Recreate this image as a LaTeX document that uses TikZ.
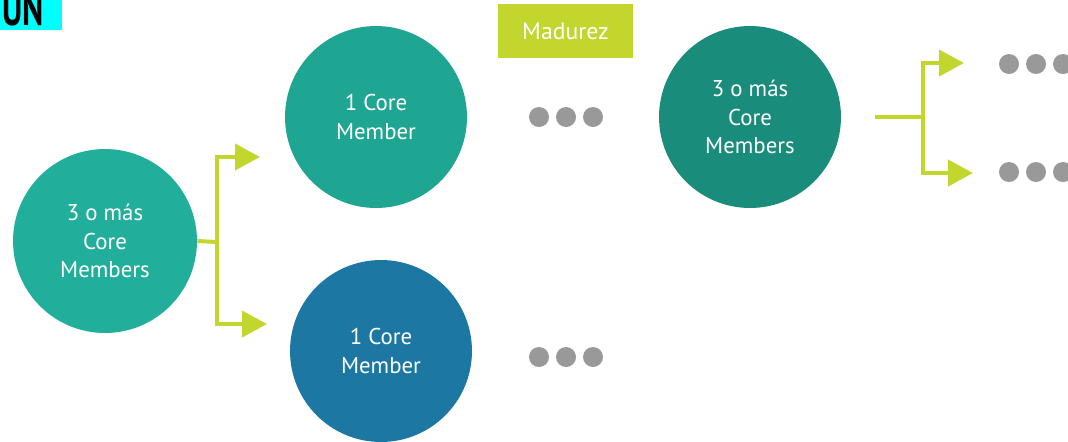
\documentclass[tikz,border=0pt]{standalone}
\usepackage{fontspec}
\setmainfont{PT Sans}
\usetikzlibrary{arrows.meta}
\definecolor{tealleft}{HTML}{21AE9B}
\definecolor{tealtop}{HTML}{1EA692}
\definecolor{tealright}{HTML}{1A8C7B}
\definecolor{bluebot}{HTML}{1C77A3}
\definecolor{limegreen}{HTML}{C2D62E}
\definecolor{dotgray}{HTML}{999999}
\definecolor{titlecyan}{HTML}{00FFFF}

\begin{document}
\begin{tikzpicture}[x=0.02cm, y=-0.02cm,
  member/.style={circle, minimum size=3.64cm, inner sep=0pt, text=white, align=center,
    font=\fontsize{13}{16}\selectfont},
  dot/.style={circle, fill=dotgray, minimum size=0.4cm, inner sep=0pt},
  fork/.style={draw=limegreen, line width=0.08cm},
  forkarrow/.style={fork, -{Triangle[length=0.5cm, width=0.52cm]}}]
\useasboundingbox (0,0) rectangle (1068,441);

% title tab, cut at the top
\node[fill=titlecyan, minimum width=1.24cm, minimum height=0.6cm, inner sep=0pt] (tab) at (31,15) {};
\node[anchor=base west, inner sep=0pt, font=\fontsize{27}{27}\selectfont\bfseries] (title) at (2,25)
  {\scalebox{0.68}[1]{UN}};

% members
\node[member, fill=tealleft, minimum size=3.68cm] (start) at (105,241) {3 o más\\Core\\Members};
\node[member, fill=tealtop] (topone) at (376,117) {1 Core\\Member};
\node[member, fill=bluebot] (botone) at (381,351) {1 Core\\Member};
\node[member, fill=tealright] (mature) at (750,117) {3 o más\\Core\\Members};

\node[fill=limegreen, text=white, minimum width=2.7cm, minimum height=1.08cm,
      font=\fontsize{13.5}{14}\selectfont] (phase) at (565.5,31) {Madurez};

% dots
\foreach \x in {539,566,593} {
  \node[dot] (dtop\x) at (\x,117) {};
  \node[dot] (dbot\x) at (\x,357) {};
}
\foreach \x in {1009,1036,1063} {
  \node[dot] (rtop\x) at (\x,64) {};
  \node[dot] (rbot\x) at (\x,172) {};
}

% left fork
\coordinate (lsplit) at (217,242);
\coordinate (lup) at (260,157);
\coordinate (ldown) at (267,324);
\draw[fork] (start.east) -- (lsplit);
\draw[forkarrow] (lsplit) |- (lup);
\draw[forkarrow] (lsplit) |- (ldown);

% right fork
\coordinate (rstart) at (875,117);
\coordinate (rsplit) at (923,117);
\coordinate (rup) at (964,63);
\coordinate (rdown) at (973,173);
\draw[fork] (rstart) -- (rsplit);
\draw[forkarrow] (rsplit) |- (rup);
\draw[forkarrow] (rsplit) |- (rdown);
\end{tikzpicture}
\end{document}
